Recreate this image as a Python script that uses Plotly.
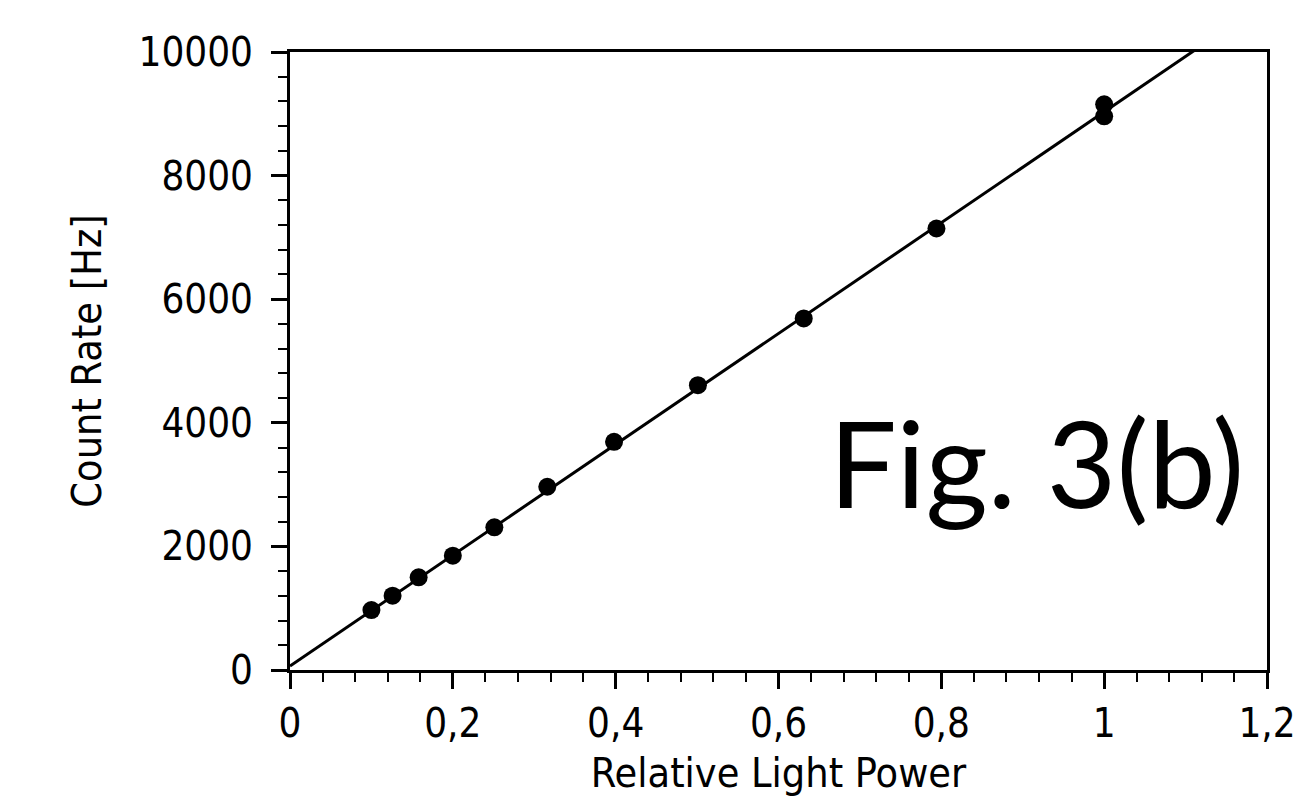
import plotly.graph_objects as go

# Data
relative_power = [0.1, 0.126, 0.158, 0.2, 0.251, 0.316, 0.398, 0.501, 0.631, 0.794, 1.0, 1.0]
count_rate = [970, 1202, 1499, 1849, 2308, 2965, 3692, 4609, 5688, 7144, 9154, 8960]

# Linear fit line parameters
fit_intercept = 65
fit_slope = 8967
fit_x = [0.0, 1.2]

x_tickvals = [0, 0.2, 0.4, 0.6, 0.8, 1.0, 1.2]
x_ticktext = ["0", "0,2", "0,4", "0,6", "0,8", "1", "1,2"]
y_tickvals = [0, 2000, 4000, 6000, 8000, 10000]
y_ticktext = ["0", "2000", "4000", "6000", "8000", "10000"]

FONT = "DejaVu Sans Condensed, DejaVu Sans, sans-serif"

fig = go.Figure()
fig.add_trace(go.Scatter(
    x=fit_x, y=[fit_intercept + fit_slope * v for v in fit_x],
    mode="lines", line=dict(color="black", width=3), showlegend=False,
))
fig.add_trace(go.Scatter(
    x=relative_power, y=count_rate, mode="markers",
    marker=dict(color="black", size=18), showlegend=False,
))

axis_common = dict(
    showgrid=False, zeroline=False, showline=True, linecolor="black", linewidth=3,
    mirror=True, ticks="outside", ticklen=16, tickwidth=2.5, tickcolor="black",
    tickfont=dict(family=FONT, size=40, color="black"), automargin=False,
)

fig.update_xaxes(
    range=[0, 1.2], tickmode="array", tickvals=x_tickvals, ticktext=x_ticktext,
    minor=dict(tickmode="linear", tick0=0, dtick=0.04, ticks="outside", ticklen=9,
               tickwidth=2, tickcolor="black"),
    title=dict(text="Relative Light Power", font=dict(family=FONT, size=41, color="black"),
               standoff=28),
    **axis_common,
)
fig.update_yaxes(
    range=[0, 10000], tickmode="array", tickvals=y_tickvals, ticktext=y_ticktext,
    minor=dict(tickmode="linear", tick0=0, dtick=400, ticks="outside", ticklen=9,
               tickwidth=2, tickcolor="black"),
    title=dict(text="Count Rate [Hz]", font=dict(family=FONT, size=41, color="black"),
               standoff=25),
    ticklabelstandoff=10,
    **axis_common,
)

fig.add_annotation(
    text="Fig. 3(b)", xref="paper", yref="paper", x=0.978, y=0.337,
    xanchor="right", yanchor="middle", showarrow=False,
    font=dict(family="Lato, Carlito, Calibri, sans-serif", size=120, color="black"),
)

fig.update_layout(
    width=1302, height=797,
    margin=dict(l=290, r=35, t=52, b=127),
    paper_bgcolor="white", plot_bgcolor="white",
)

fig.write_html("out.html")
